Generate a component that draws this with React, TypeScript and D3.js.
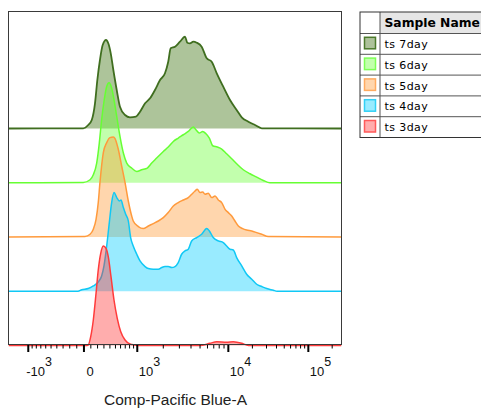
import React from "react";
import * as d3 from "d3";

// ---------- data ----------
const SAMPLE_NAMES = ["ts 7day", "ts 6day", "ts 5day", "ts 4day", "ts 3day"];

// histogram points: [display channel (0-256), % of mode]
const DAY7: [number, number][] = [
  [57.5, 0.2], [61.3, 3.5], [64.0, 8.5], [66.5, 25.2], [68.3, 48.5], [70.3, 68.5], [72.4, 83.5], [75.0, 88.5],
  [76.7, 85.2], [78.6, 75.2], [80.6, 58.5], [83.2, 38.5], [85.7, 21.8], [89.6, 13.5], [93.4, 11.2], [98.0, 11.8],
  [101.1, 16.8], [105.0, 25.2], [108.8, 30.2], [112.6, 38.5], [116.5, 48.5], [120.3, 55.2], [122.8, 66.8],
  [124.7, 80.2], [128.0, 81.8], [131.8, 86.8], [135.7, 91.8], [137.5, 85.8], [139.5, 85.2], [142.1, 86.8],
  [144.7, 85.8], [148.5, 81.8], [152.4, 70.2], [156.2, 66.8], [160.1, 55.2], [165.1, 41.8], [170.3, 28.5],
  [175.4, 18.5], [179.3, 11.2], [184.4, 6.8], [189.5, 3.5], [194.7, 0.2],
];
const DAY6: [number, number][] = [
  [57.5, 0.3], [62.7, 3], [65.2, 8], [67.8, 19.7], [69.8, 39.7], [71.6, 63], [73.6, 83], [75.5, 96.3],
  [77.3, 100], [79.3, 94.7], [81.1, 83], [83.2, 66.3], [85.7, 46.3], [88.3, 29.7], [90.9, 19.7], [94.7, 14.7],
  [98.6, 11.3], [102.4, 13], [106.7, 14.7], [110.1, 19.7], [113.9, 24.7], [119.0, 31.3], [122.8, 35.7],
  [126.7, 41.3], [130.5, 44.7], [134.4, 48], [138.2, 51.3], [142.1, 55.7], [144.1, 53], [146.7, 49.7],
  [149.3, 51.3], [151.8, 49], [154.4, 44.7], [157.0, 37], [160.5, 35.7], [163.9, 33.7], [167.7, 29],
  [171.6, 24], [175.4, 19], [180.5, 13], [185.7, 9], [190.8, 5.7], [195.9, 2.3], [201.0, 0],
];
const DAY5: [number, number][] = [
  [58.8, 0.4], [62.7, 2.7], [65.2, 7.7], [67.3, 17.7], [69.0, 34.4], [70.3, 54.4], [72.9, 84.4], [75.5, 94.4],
  [78.0, 99.4], [80.6, 100], [81.9, 98.4], [84.4, 87.7], [87.0, 71], [89.6, 54.4], [92.1, 36], [94.7, 21],
  [95.9, 16], [99.8, 10.4], [103.6, 8.4], [107.5, 11], [111.3, 13.4], [115.2, 16], [119.0, 19.4], [122.8, 24.4],
  [126.7, 31], [130.5, 34.4], [134.4, 37], [138.2, 39.4], [140.8, 42.7], [143.4, 46], [145.1, 47.7],
  [147.2, 44.4], [149.3, 45], [151.1, 42.7], [153.6, 43.7], [156.2, 39.4], [158.8, 41], [161.3, 37],
  [163.9, 34.4], [166.5, 27.7], [169.0, 24.4], [171.6, 21], [174.1, 16], [176.7, 11], [180.0, 8.4],
  [183.1, 7], [187.0, 6], [190.8, 4.4], [194.7, 2.7], [199.7, 0.4],
];
const DAY4: [number, number][] = [
  [53.4, 0], [56.3, 1.5], [61.3, 2.7], [65.2, 5.3], [69.0, 9.3], [71.6, 15.3], [73.4, 25.3], [75.5, 45.3],
  [77.5, 68.7], [79.3, 88.7], [81.1, 98.7], [83.2, 93.7], [85.2, 90.3], [86.5, 91.3], [88.3, 83.7],
  [90.1, 77], [92.1, 70.3], [93.9, 53.7], [95.9, 45.3], [98.6, 37], [101.1, 30.3], [105.0, 24.7],
  [107.5, 22.7], [111.3, 22], [115.2, 22], [117.8, 23.7], [120.3, 24.7], [122.8, 24.7], [125.5, 23.7],
  [128.0, 24.7], [130.5, 28.7], [133.1, 37], [135.7, 40.3], [138.2, 42], [140.8, 50.3], [144.7, 53.7],
  [148.5, 57], [152.4, 62.7], [154.4, 60.3], [157.4, 53.7], [161.3, 50.3], [165.1, 48.7], [167.7, 45.3],
  [170.3, 42], [172.8, 41.3], [175.4, 33.7], [179.3, 25.3], [183.1, 17], [187.0, 12], [190.8, 7],
  [194.7, 4.7], [198.5, 2.7], [203.6, 1], [206.4, 0],
];
const DAY3: [number, number][] = [
  [59.5, 0], [61.3, 0.5], [63.2, 8.8], [65.2, 25.5], [67.3, 52.2], [69.0, 75.5], [70.9, 92.2], [72.9, 99.5],
  [75.0, 97.2], [76.7, 88.8], [78.8, 68.8], [81.1, 45.5], [83.6, 27.2], [86.3, 13.8], [89.6, 5.5],
  [93.4, 1.5], [97.2, 0.5], [100.0, 0], [147.2, 0], [154.9, 2.2], [160.1, 3.8], [167.7, 3.2], [172.8, 3.8],
  [179.3, 2.2], [183.1, 0.5], [185.7, 0],
];
const SERIES = [DAY7, DAY6, DAY5, DAY4, DAY3];

// axis calibration (value -> display channel)
const AXIS_ANCHOR_VALUES = [-1000, 0, 1000, 10000, 100000, 262144];
const AXIS_ANCHOR_CHANNELS = [15.2, 58.0, 99.0, 169.0, 230.5, 256];
const MAJOR_TICKS = [-1000, 0, 1000, 10000, 100000];
const MAJOR_BASES = ["-10", "0", "10", "10", "10"];
const MAJOR_EXPS = ["3", "", "3", "4", "5"];
const MINOR_TICKS = [
  -900, -800, -700, -600, -500, -400, -300, -200, -100,
  100, 200, 300, 400, 500, 600, 700, 800, 900,
  2000, 3000, 4000, 5000, 6000, 7000, 8000, 9000,
  20000, 30000, 40000, 50000, 60000, 70000, 80000, 90000, 200000,
];
const AXIS_TITLE = "Comp-Pacific Blue-A";
const LEGEND_HEADER = "Sample Name";

// ---------- styles ----------
const LINE_COLORS = ["#3f6e1f", "#66ff33", "#ff9a3c", "#10c8f5", "#ff3b3b"];
const FILL_COLORS = ["#5c8a36", "#66ff33", "#ff9933", "#00ccff", "#ff3333"];
const FILL_OPACITY = [0.5, 0.4, 0.4, 0.4, 0.4];
const SWATCH_FILLS = ["#adc29a", "#c2ffad", "#ffd6ad", "#99ebff", "#ffadad"];
const SWATCH_STROKES = ["#4b7a2b", "#7dff55", "#ffab60", "#33d0f5", "#ff5a5a"];
const STACK_STEP = 54.25;

const BOX = { x0: 8.5, x1: 341.5, y0: 11.5, y1: 344.5 };

export default function App() {
  const xCh = d3.scaleLinear().domain([0, 256]).range([BOX.x0, BOX.x1]);
  const yPct = d3.scaleLinear().domain([0, 100]).range([345.5, 245.5]);
  const tr = (v: number) => Math.asinh(v / 600);
  const valueToChannel = d3
    .scaleLinear()
    .domain(AXIS_ANCHOR_VALUES.map(tr))
    .range(AXIS_ANCHOR_CHANNELS);
  const xVal = (v: number) => xCh(valueToChannel(tr(v)));

  const n = SERIES.length;
  const paths = SERIES.map((pts, i) => {
    const offset = (n - 1 - i) * STACK_STEP;
    const full: [number, number][] = [[0, 0], ...pts, [256, 0]];
    const area = d3
      .area<[number, number]>()
      .x((d) => xCh(d[0]))
      .y0(yPct(offset))
      .y1((d) => yPct(d[1] + offset))
      .curve(d3.curveMonotoneX);
    const line = d3
      .line<[number, number]>()
      .x((d) => xCh(d[0]))
      .y((d) => yPct(d[1] + offset))
      .curve(d3.curveMonotoneX);
    return { area: area(full) || "", line: line(full) || "" };
  });

  const font = "'Liberation Sans', Arial, sans-serif";
  const legendFont = "'DejaVu Sans', Verdana, sans-serif";
  const lx0 = 360, lxDiv = 380, lx1 = 490;
  const headerTop = 12, headerBottom = 33.5, rowH = 20.8;

  return (
    <svg
      width={481}
      height={410}
      style={{ position: "absolute", left: 0, top: 0, background: "#fff" }}
    >
      <defs>
        <clipPath id="plotClip">
          <rect x={BOX.x0} y={0} width={BOX.x1 - BOX.x0} height={350} />
        </clipPath>
      </defs>
      <g clipPath="url(#plotClip)">
        {paths.map((p, i) => (
          <g key={i}>
            <path d={p.area} fill={FILL_COLORS[i]} fillOpacity={FILL_OPACITY[i]} stroke="none" />
            <path d={p.line} fill="none" stroke={LINE_COLORS[i]} strokeWidth={i === 0 ? 1.8 : 1.5} strokeLinejoin="round" />
          </g>
        ))}
      </g>
      <rect
        x={BOX.x0}
        y={BOX.y0}
        width={BOX.x1 - BOX.x0}
        height={BOX.y1 - BOX.y0}
        fill="none"
        stroke="#3a3a3a"
        strokeWidth={1}
      />
      {/* ticks */}
      {MINOR_TICKS.map((v) => (
        <line key={"m" + v} x1={xVal(v)} x2={xVal(v)} y1={BOX.y1 + 0.5} y2={BOX.y1 + 4} stroke="#000" strokeWidth={1} />
      ))}
      {MAJOR_TICKS.map((v) => (
        <line key={"M" + v} x1={xVal(v)} x2={xVal(v)} y1={BOX.y1 + 0.5} y2={BOX.y1 + 7.5} stroke="#000" strokeWidth={2} />
      ))}
      {MAJOR_TICKS.map((v, i) => {
        const dx = v < 0 ? -2 : v === 0 ? 2.5 : 1.5;
        return (
          <text key={"L" + v} x={xVal(v) + dx} y={375.5} fontFamily={font} fontSize={13} fill="#111">
            <tspan>{MAJOR_BASES[i]}</tspan>
            {MAJOR_EXPS[i] ? (
              <tspan dy={-10} fontSize={12.5}>
                {MAJOR_EXPS[i]}
              </tspan>
            ) : null}
          </text>
        );
      })}
      <text x={175.5} y={405} textAnchor="middle" fontFamily={font} fontSize={15.5} fill="#222">
        {AXIS_TITLE}
      </text>

      {/* legend table */}
      <rect x={lxDiv} y={headerTop} width={lx1 - lxDiv} height={headerBottom - headerTop} fill="#e6e6e6" />
      <text x={384.5} y={27} fontFamily={legendFont} fontWeight="bold" fontSize={12.3} fill="#000">
        {LEGEND_HEADER}
      </text>
      {SAMPLE_NAMES.map((name, i) => {
        const top = headerBottom + i * rowH;
        return (
          <g key={name}>
            <rect
              x={364.5}
              y={top + 3.8}
              width={11}
              height={11.5}
              fill={SWATCH_FILLS[i]}
              stroke={SWATCH_STROKES[i]}
              strokeWidth={1.5}
            />
            <text x={384.5} y={top + 14.5} fontFamily={legendFont} fontSize={11} letterSpacing={0.4} fill="#000">
              {name}
            </text>
          </g>
        );
      })}
      {SAMPLE_NAMES.map((_, i) => (
        <line
          key={"rl" + i}
          x1={lx0}
          x2={lx1}
          y1={headerBottom + i * rowH}
          y2={headerBottom + i * rowH}
          stroke="#555"
          strokeWidth={1}
        />
      ))}
      <line x1={lxDiv} x2={lxDiv} y1={headerTop} y2={headerBottom + SAMPLE_NAMES.length * rowH} stroke="#555" strokeWidth={1} />
      <rect
        x={lx0}
        y={headerTop}
        width={lx1 - lx0}
        height={headerBottom - headerTop + SAMPLE_NAMES.length * rowH}
        fill="none"
        stroke="#333"
        strokeWidth={1}
      />
    </svg>
  );
}
